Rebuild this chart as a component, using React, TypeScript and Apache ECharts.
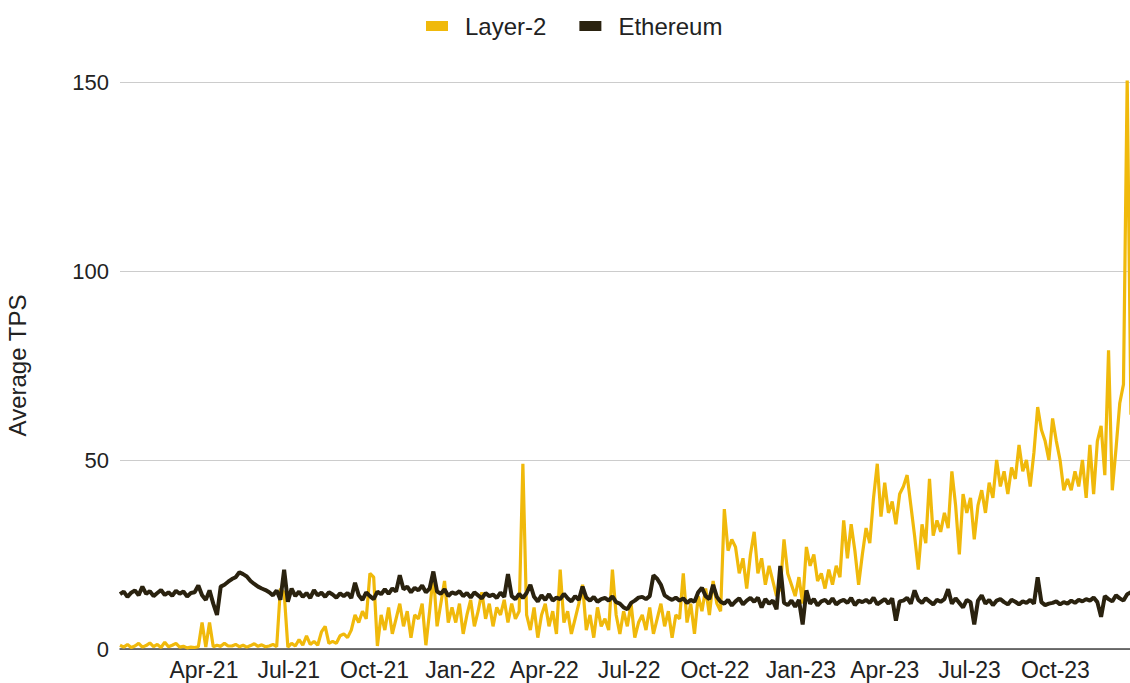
import React, { useEffect, useRef } from "react";
import * as echarts from "echarts";

// Samples every 4 days starting 2021-01-01
const START = Date.UTC(2021, 0, 1);
const STEP_DAYS = 4;

const layer2: number[] = [
  1, 0.5, 1.2, 0.4, 0.8, 1.5, 0.5, 0.9, 1.6, 0.6,
  1.2, 0.4, 1.8, 0.6, 1.0, 1.5, 0.5, 0.7, 0.3, 0.5,
  0.4, 0.6, 7, 0.5, 7, 0.6, 1.0, 0.7, 1.5, 0.8,
  0.8, 1.2, 0.6, 1.0, 0.5, 0.9, 1.4, 0.7, 1.1, 0.6,
  0.8, 1.2, 0.6, 16, 15, 0.5, 1.5, 0.8, 2.5, 1.0,
  3.5, 1.2, 2.0, 1.0, 4.5, 6, 1.5, 2.0, 1.5, 3.5,
  4, 3, 5, 9, 7, 10, 8, 20, 19, 0.8,
  9, 5, 11, 4, 8, 12, 6, 10, 3, 9,
  8, 12, 1, 10, 20, 6, 12, 18, 7, 11,
  7, 12, 4, 9, 13, 6, 10, 15, 8, 12,
  6, 11, 9, 13, 7, 12, 8, 10, 49, 9,
  5, 11, 3, 9, 12, 6, 10, 4, 21, 7,
  10, 4, 8, 12, 17, 5, 9, 3, 11, 6,
  8, 5, 21, 9, 4, 10, 6, 12, 3, 7,
  9, 5, 11, 4, 8, 12, 6, 10, 3, 9,
  8, 20, 7, 12, 4, 14, 10, 16, 9, 18,
  12, 10, 37, 26, 29, 27, 20, 24, 16, 25,
  31, 20, 24, 17, 22, 18, 14, 16, 29, 20,
  17, 14, 19, 12, 27, 22, 25, 18, 20, 16,
  21, 17, 22, 19, 34, 24, 33, 26, 17, 25,
  32, 28, 40, 49, 35, 44, 36, 39, 33, 41,
  43, 46, 38, 30, 21, 33, 28, 45, 30, 34,
  31, 36, 32, 47, 38, 25, 41, 36, 40, 29,
  38, 42, 36, 44, 40, 50, 43, 47, 41, 48,
  45, 54, 47, 50, 43, 52, 64, 58, 55, 50,
  61, 55, 50, 42, 45, 42, 47, 43, 50, 40,
  54, 41, 55, 59, 46, 79, 42, 53, 65, 70,
  151, 62,
];

const ethereum: number[] = [
  14.5, 15.2, 13.8, 14.9, 15.5, 14.2, 16.5, 14.6, 15.3, 14.0,
  14.8, 15.6, 14.3, 15.0, 14.1, 15.4, 14.6, 15.2, 13.9, 14.8,
  15.0, 16.8, 14.2, 13.0, 15.5, 12.0, 9.0, 16.5, 17.0, 17.8,
  18.5, 19.0, 20.3, 19.8, 19.2, 18.0, 17.2, 16.5, 16.0, 15.6,
  15.0, 14.2, 15.5, 13.0, 21.0, 12.5, 16.0, 14.0, 15.2, 13.8,
  14.8, 13.5, 15.6, 14.2, 14.9, 13.8, 15.0, 14.4, 13.6, 14.7,
  14.0, 14.8, 13.5, 17.5, 14.2, 13.0, 15.0, 14.0, 13.2, 15.2,
  14.5, 15.8, 14.6, 16.0, 15.2, 19.5, 15.8, 16.5, 15.0, 16.2,
  15.5, 16.8, 15.0, 16.0, 20.5, 15.2, 14.6, 15.8, 14.0, 15.0,
  14.6, 15.3, 14.0, 14.8, 13.6, 15.0, 14.2, 13.4, 14.8, 14.0,
  14.4, 13.5, 14.9, 13.8, 19.8, 14.0, 13.2, 14.6, 13.5, 14.8,
  17.0, 13.8, 12.6, 14.2, 13.0, 14.5, 12.8, 13.6, 13.2, 14.6,
  13.4, 12.6, 14.0, 13.0, 16.5, 13.6, 12.8, 13.8, 12.5, 13.2,
  13.5, 12.8, 13.9, 12.4, 12.0, 11.0, 10.5, 12.2, 12.8, 13.6,
  13.8, 13.2, 14.0, 19.5, 18.6, 17.0, 14.2, 13.5, 13.0, 13.6,
  12.8, 13.4, 12.2, 13.0, 12.5, 15.0, 16.2, 14.0, 13.2, 17.0,
  13.8, 12.5, 12.0, 13.0, 11.5, 12.6, 13.4, 11.8, 12.8, 13.5,
  12.5, 13.6, 11.0, 13.2, 12.0, 12.8, 10.5, 22.0, 12.2, 11.6,
  12.8, 11.2, 13.0, 6.5, 15.5, 12.0, 13.2, 11.5, 12.6, 13.0,
  12.0, 13.4, 11.8, 12.6, 13.0, 12.2, 13.5, 11.6, 12.8, 12.4,
  13.0, 12.2, 13.6, 11.8, 12.5, 13.2, 12.0, 13.4, 7.5, 12.6,
  12.8, 13.5, 12.0, 15.5, 13.0, 12.2, 13.4, 12.6, 11.8, 13.0,
  12.5, 13.2, 15.8, 12.0, 13.4, 12.2, 11.0, 13.0, 12.4, 6.5,
  12.8, 14.2, 12.0, 13.0, 11.6, 12.8, 13.2, 12.4, 11.8, 13.0,
  12.5, 11.8, 12.6, 12.2, 13.0, 12.0, 19.0, 12.4, 11.6, 12.0,
  12.2, 12.6, 11.8, 12.4, 12.0, 12.8, 12.2, 13.0, 12.6, 13.2,
  12.8, 13.6, 12.4, 8.5, 14.0, 13.2, 12.6, 14.2, 13.4, 12.8,
  14.5, 15.0,
];

const MONTHS = ["Jan", "Feb", "Mar", "Apr", "May", "Jun", "Jul", "Aug", "Sep", "Oct", "Nov", "Dec"];
const tickDates: number[] = [
  Date.UTC(2021, 3, 1), Date.UTC(2021, 6, 1), Date.UTC(2021, 9, 1),
  Date.UTC(2022, 0, 1), Date.UTC(2022, 3, 1), Date.UTC(2022, 6, 1), Date.UTC(2022, 9, 1),
  Date.UTC(2023, 0, 1), Date.UTC(2023, 3, 1), Date.UTC(2023, 6, 1), Date.UTC(2023, 9, 1),
];
const X_MAX = Date.UTC(2023, 11, 20);

const yTicks = { min: 0, max: 150, interval: 50 };

const FONT = "'Liberation Sans', Arial, Helvetica, sans-serif";

function toPairs(vals: number[]) {
  return vals.map((v, i) => [START + i * STEP_DAYS * 86400000, v]);
}

export default function App() {
  const ref = useRef<HTMLDivElement>(null);
  useEffect(() => {
    if (!ref.current) return;
    const chart = echarts.init(ref.current, undefined, { renderer: "svg" });
    chart.setOption({
      animation: false,
      backgroundColor: "#ffffff",
      textStyle: { fontFamily: FONT },
      legend: {
        top: 9,
        left: 421,
        icon: "rect",
        itemWidth: 22,
        itemHeight: 10,
        itemGap: 33,
        textStyle: { fontSize: 24, color: "#222", fontFamily: FONT, padding: [0, 0, 0, 12] },
        data: ["Layer-2", "Ethereum"],
      },
      grid: { left: 120, right: 0, top: 82, bottom: 34, containLabel: false, outerBoundsMode: "none" },
      xAxis: {
        type: "value",
        min: START,
        max: X_MAX,
        axisLine: { show: true, lineStyle: { color: "#444", width: 1.5 } },
        axisTick: { show: false },
        splitLine: { show: false },
        axisLabel: {
          customValues: tickDates,
          fontSize: 23,
          color: "#222",
          fontFamily: FONT,
          margin: 9,
          formatter: (v: number) => {
            const d = new Date(v);
            return MONTHS[d.getUTCMonth()] + "-" + String(d.getUTCFullYear()).slice(2);
          },
        },
      },
      yAxis: {
        type: "value",
        min: yTicks.min,
        max: yTicks.max,
        interval: yTicks.interval,
        name: "Average TPS",
        nameLocation: "middle",
        nameGap: 91,
        nameRotate: 90,
        nameTextStyle: { fontSize: 24, color: "#222", fontFamily: FONT },
        axisLine: { show: false },
        axisTick: { show: false },
        axisLabel: { fontSize: 22, color: "#222", fontFamily: FONT, margin: 11 },
        splitLine: { lineStyle: { color: "#cccccc", width: 1 } },
      },
      series: [
        {
          name: "Layer-2",
          type: "line",
          data: toPairs(layer2),
          showSymbol: false,
          symbol: "none",
          lineStyle: { color: "#F0B90B", width: 3.2 },
          itemStyle: { color: "#F0B90B" },
          z: 2,
        },
        {
          name: "Ethereum",
          type: "line",
          data: toPairs(ethereum),
          showSymbol: false,
          symbol: "none",
          lineStyle: { color: "#2A220F", width: 4 },
          itemStyle: { color: "#2A220F" },
          z: 3,
        },
      ],
    });
    return () => chart.dispose();
  }, []);
  return (
    <div
      ref={ref}
      style={{ position: "fixed", left: 0, top: 0, width: 1130, height: 683, background: "#fff" }}
    />
  );
}
